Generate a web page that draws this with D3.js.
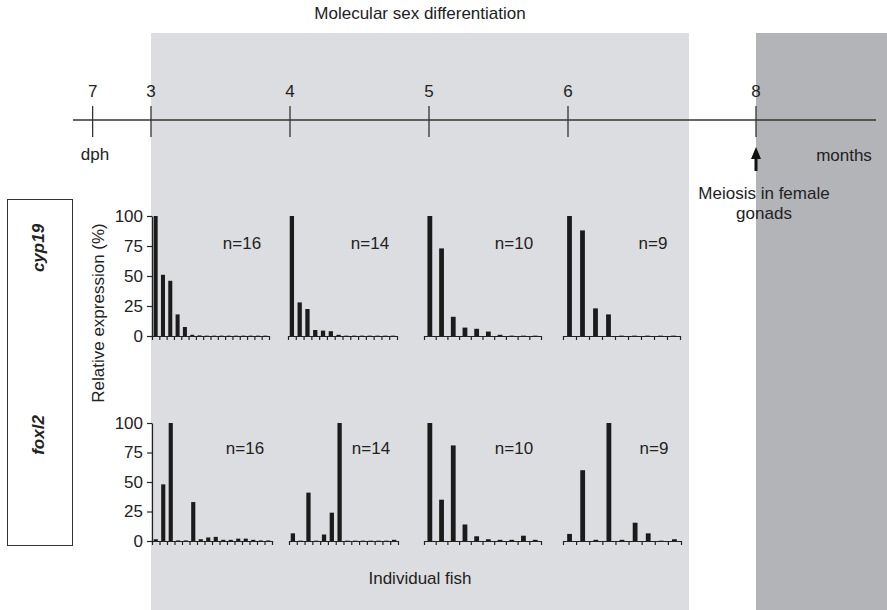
<!DOCTYPE html>
<html>
<head>
<meta charset="utf-8">
<script src="https://cdn.jsdelivr.net/npm/d3@7"></script>
<style>
  body { margin: 0; background: #fff; }
  text { font-family: "Liberation Sans", Arial, sans-serif; fill: #222; }
</style>
</head>
<body>
<script>
// data
const genes = ["cyp19", "foxl2"];
const sampleSizes = [16, 14, 10, 9];
const yTicks = [0, 25, 50, 75, 100];
const timeLabels = ["7", "3", "4", "5", "6", "8"];
const timeValues = [2.58, 3, 4, 5, 6, 8]; // 7 dph drawn left of the 3-month mark

const cyp19Values = [
  [100, 51, 46, 18, 7.5, 1, 0.5, 0.3, 0.3, 0.3, 0.3, 0.3, 0.3, 0.3, 0.3, 0.3],
  [100, 28, 22.5, 5, 4.5, 4, 1, 0.3, 0.3, 0.3, 0.3, 0.3, 0.3, 0.3],
  [100, 73, 16, 7, 6, 3.7, 1, 0.3, 0.3, 0.3],
  [100, 88, 23, 18, 0.3, 0.3, 0.3, 0.3, 0.3]
];
const foxl2Values = [
  [1.5, 48, 100, 0.5, 0.5, 33, 1.5, 3, 3.5, 1, 1, 2, 2, 1, 0.5, 0.5],
  [6.5, 0.3, 41, 0.3, 5.5, 24, 100, 0.3, 0.3, 0.3, 0.3, 0.3, 0.3, 1],
  [100, 35, 81, 14, 4, 1.5, 1, 1, 4.5, 1],
  [6, 60, 1, 100, 1, 15.5, 6.5, 0.3, 1.5]
];
const rows = [cyp19Values, foxl2Values];

const W = 887, H = 610;
const FS = "17px";
const svg = d3.select("body").append("svg")
    .attr("width", W)
    .attr("height", H);

// background periods
svg.append("rect").attr("x", 151).attr("y", 33).attr("width", 538).attr("height", H - 33)
    .attr("fill", "#dcdde0");
svg.append("rect").attr("x", 756).attr("y", 33).attr("width", W - 756).attr("height", H - 33)
    .attr("fill", "#b3b4b8");

svg.append("text").attr("x", 420).attr("y", 19).attr("text-anchor", "middle")
    .style("font-size", FS).text("Molecular sex differentiation");

// timeline
const tx = d3.scaleLinear().domain([3, 6, 8]).range([151, 568, 756]);
const tl = svg.append("g");
tl.append("line").attr("x1", 73).attr("x2", 876).attr("y1", 120).attr("y2", 120)
    .attr("stroke", "#333").attr("stroke-width", 1.3);
tl.selectAll(".tk").data(timeValues).join("line")
    .attr("x1", d => tx(d)).attr("x2", d => tx(d))
    .attr("y1", 106).attr("y2", 137)
    .attr("stroke", "#333").attr("stroke-width", 1.3);
tl.selectAll(".tl").data(timeValues).join("text")
    .attr("x", d => tx(d)).attr("y", 97).attr("text-anchor", "middle")
    .style("font-size", FS).text((d, i) => timeLabels[i]);
tl.append("text").attr("x", 95).attr("y", 160).attr("text-anchor", "middle")
    .style("font-size", FS).text("dph");
tl.append("text").attr("x", 844).attr("y", 161).attr("text-anchor", "middle")
    .style("font-size", FS).text("months");

// arrow: meiosis
tl.append("line").attr("x1", tx(8)).attr("x2", tx(8)).attr("y1", 157).attr("y2", 171)
    .attr("stroke", "#111").attr("stroke-width", 3);
tl.append("path")
    .attr("d", `M${tx(8)},147 L${tx(8) + 5},159 L${tx(8) - 5},159 Z`)
    .attr("fill", "#111");
tl.append("text").attr("x", 764).attr("y", 199).attr("text-anchor", "middle")
    .style("font-size", FS).text("Meiosis in female");
tl.append("text").attr("x", 764).attr("y", 219).attr("text-anchor", "middle")
    .style("font-size", FS).text("gonads");

// gene label box
svg.append("rect").attr("x", 7.5).attr("y", 199.5).attr("width", 65).attr("height", 346)
    .attr("fill", "#fff").attr("stroke", "#333").attr("stroke-width", 1);
const geneY = [248, 435];
genes.forEach((g, i) => {
  svg.append("text")
      .attr("transform", `translate(44,${geneY[i]}) rotate(-90)`)
      .attr("text-anchor", "middle")
      .style("font-size", FS).style("font-weight", "bold").style("font-style", "italic")
      .text(g);
});

svg.append("text")
    .attr("transform", "translate(104,313) rotate(-90)")
    .attr("text-anchor", "middle")
    .style("font-size", FS).text("Relative expression (%)");

svg.append("text").attr("x", 420).attr("y", 584).attr("text-anchor", "middle")
    .style("font-size", FS).text("Individual fish");

// panel layout
const rowY = [[336, 216], [541, 423]];
const panelX = [
  [[152, 269], [288, 397], [424, 541], [563, 680]],
  [[152, 272], [289, 398], [424, 541], [563, 681]]
];
const nLabelY = [249, 454];

rows.forEach((rowData, r) => {
  const y = d3.scaleLinear().domain([0, 100]).range(rowY[r]);

  const ya = svg.append("g").attr("transform", "translate(152,0)")
      .call(d3.axisLeft(y).tickValues(yTicks).tickSize(5).tickSizeOuter(0).tickPadding(4));
  ya.selectAll("text").style("font-size", FS).style("font-family", "Liberation Sans, Arial, sans-serif")
      .attr("fill", "#222");
  ya.selectAll("line, path").attr("stroke", "#222").attr("stroke-width", 1.2);

  rowData.forEach((vals, p) => {
    const n = vals.length;
    const xr = panelX[r][p];
    const x = d3.scaleBand().domain(d3.range(n)).range(xr);
    const xt = d3.scaleLinear().domain([0, n]).range(xr);
    const bw = Math.min(x.step() * 0.55, 4.8);

    const g = svg.append("g");
    g.selectAll("rect").data(vals).join("rect")
        .attr("x", (d, i) => x(i) + (x.step() - bw) / 2)
        .attr("y", d => y(d))
        .attr("width", bw)
        .attr("height", d => y(0) - y(d))
        .attr("fill", "#1b1b1b");

    const xa = g.append("g").attr("transform", `translate(0,${y(0)})`)
        .call(d3.axisBottom(xt).tickValues(d3.range(n + 1)).tickFormat("").tickSize(4).tickSizeOuter(0));
    xa.selectAll("line, path").attr("stroke", "#222").attr("stroke-width", 1.2);

    g.append("text")
        .attr("x", xr[1] - 27).attr("y", nLabelY[r]).attr("text-anchor", "middle")
        .style("font-size", FS).text("n=" + sampleSizes[p]);
  });
});
</script>
</body>
</html>
